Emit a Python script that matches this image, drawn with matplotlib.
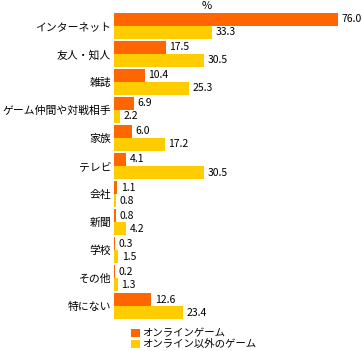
import numpy as np
import matplotlib.pyplot as plt

plt.rcParams['font.family'] = ['Noto Sans CJK JP', 'DejaVu Sans']

categories = ['インターネット', '友人・知人', '雑誌', 'ゲーム仲間や対戦相手', '家族', 'テレビ',
              '会社', '新聞', '学校', 'その他', '特にない']
online = [76.0, 17.5, 10.4, 6.9, 6.0, 4.1, 1.1, 0.8, 0.3, 0.2, 12.6]
offline = [33.3, 30.5, 25.3, 2.2, 17.2, 30.5, 0.8, 4.2, 1.5, 1.3, 23.4]
series_names = ['オンラインゲーム', 'オンライン以外のゲーム']
colors = ['#FF6600', '#FFCC00']

W, H = 362, 351
fig = plt.figure(figsize=(W / 100, H / 100), dpi=100)
ax = fig.add_axes([114 / W, 1 - 322 / H, (350 - 114) / W, 312 / H])

y = np.arange(len(categories))
bh = 13 / 28
b1 = ax.barh(y - bh / 2, online, height=bh, color=colors[0], label=series_names[0])
b2 = ax.barh(y + bh / 2, offline, height=bh, color=colors[1], label=series_names[1])

for bars, vals in [(b1, online), (b2, offline)]:
    for rect, v in zip(bars, vals):
        ax.annotate('%.1f' % v, (v, rect.get_y() + rect.get_height() / 2),
                    xytext=(2.5, 0), textcoords='offset points',
                    va='center', ha='left', fontsize=7.5)

ax.set_xlim(0, 80)
ax.set_ylim(len(categories) - 0.43, -0.57)
ax.set_yticks(y)
ax.set_yticklabels(categories, fontsize=7.8)
ax.tick_params(axis='y', length=0, pad=2)
ax.set_xticks([])
for s in ax.spines.values():
    s.set_visible(False)

fig.text(207 / W, 1 - 6 / H, '%', ha='center', va='center', fontsize=8)

fig.legend(handles=[b1, b2], loc='upper left', bbox_to_anchor=(124 / W, 1 - 321 / H),
           frameon=False, fontsize=7.5, handlelength=0.8, handleheight=0.8,
           handletextpad=0.2, labelspacing=0.1, borderpad=0.2)

fig.savefig('out.png', dpi=100)
